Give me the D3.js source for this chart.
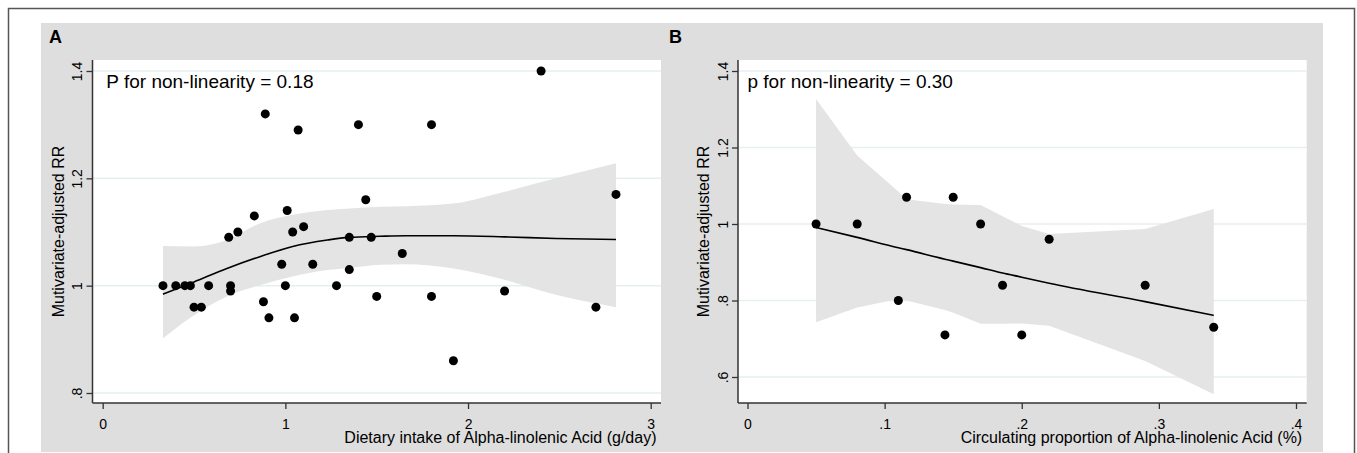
<!DOCTYPE html>
<html>
<head>
<meta charset="utf-8">
<script src="https://cdn.jsdelivr.net/npm/d3@7"></script>
<style>
  body { margin: 0; background: #fff; }
  text { font-family: "Liberation Sans", Arial, sans-serif; fill: #000; }
</style>
</head>
<body>
<svg id="chart"></svg>
<script>
// panel A: dietary intake
var xA = [0.33, 0.40, 0.45, 0.48, 0.50, 0.54, 0.58, 0.69, 0.70, 0.70, 0.74, 0.83, 0.88, 0.89, 0.91, 0.98, 1.00, 1.01, 1.04,
  1.05, 1.07, 1.10, 1.15, 1.28, 1.35, 1.35, 1.40, 1.44, 1.47, 1.50, 1.64, 1.80, 1.80, 1.92, 2.20, 2.40, 2.70, 2.81];
var yA = [1.00, 1.00, 1.00, 1.00, 0.96, 0.96, 1.00, 1.09, 1.00, 0.99, 1.10, 1.13, 0.97, 1.32, 0.94, 1.04, 1.00, 1.14, 1.10,
  0.94, 1.29, 1.11, 1.04, 1.00, 1.09, 1.03, 1.30, 1.16, 1.09, 0.98, 1.06, 1.30, 0.98, 0.86, 0.99, 1.40, 0.96, 1.17];
var fitXA = [0.33, 0.50, 0.68, 0.86, 1.04, 1.23, 1.35, 1.52, 1.66, 1.92, 2.20, 2.48, 2.81];
var fitA = [0.984, 1.007, 1.032, 1.054, 1.073, 1.085, 1.090, 1.092, 1.093, 1.093, 1.091, 1.088, 1.086];
var loA = [0.902, 0.945, 0.980, 1.001, 1.017, 1.029, 1.033, 1.039, 1.040, 1.032, 1.011, 0.983, 0.960];
var hiA = [1.074, 1.073, 1.085, 1.116, 1.132, 1.141, 1.144, 1.147, 1.148, 1.153, 1.175, 1.200, 1.228];
var xTicksA = [0, 1, 2, 3];
var yTicksA = [0.8, 1, 1.2, 1.4];

// panel B: circulating proportion
var xB = [0.05, 0.08, 0.11, 0.116, 0.144, 0.15, 0.17, 0.186, 0.20, 0.22, 0.29, 0.34];
var yB = [1.00, 1.00, 0.80, 1.07, 0.71, 1.07, 1.00, 0.84, 0.71, 0.96, 0.84, 0.73];
var fitXB = [0.05, 0.08, 0.11, 0.116, 0.144, 0.15, 0.17, 0.186, 0.20, 0.22, 0.29, 0.34];
var fitB = [0.991, 0.965, 0.938, 0.933, 0.908, 0.903, 0.886, 0.872, 0.861, 0.845, 0.797, 0.761];
var loB = [0.743, 0.782, 0.804, 0.800, 0.775, 0.768, 0.739, 0.739, 0.740, 0.734, 0.642, 0.555];
var hiB = [1.327, 1.179, 1.085, 1.065, 1.052, 1.051, 1.050, 1.020, 0.995, 0.974, 0.987, 1.039];
var xTicksB = [0, 0.1, 0.2, 0.3, 0.4];
var yTicksB = [0.6, 0.8, 1, 1.2, 1.4];

function stataFmt(v) {
  // Stata style: drop the leading zero
  var s = d3.format("~g")(+v.toFixed(2));
  return s.replace(/^0\./, ".");
}

function main() {
  var svgWidth = 1357;
  var svgHeight = 453;
  var svg = d3.select("#chart").attr("width", svgWidth).attr("height", svgHeight);

  svg.append("rect")
    .attr("x", 8.5).attr("y", 8.5)
    .attr("width", 1346).attr("height", 470)
    .attr("fill", "#fff")
    .attr("stroke", "#555")
    .attr("stroke-width", 1.5);

  svg.append("rect")
    .attr("x", 41).attr("y", 23)
    .attr("width", 1282).attr("height", 429)
    .attr("fill", "#dedede");

  function drawPanel(p) {
    var g = svg.append("g");
    var x = d3.scaleLinear().domain(p.xDomain).range(p.xRange);
    var y = d3.scaleLinear().domain(p.yDomain).range(p.yRange);

    g.append("rect")
      .attr("x", p.left).attr("y", p.top)
      .attr("width", p.right - p.left).attr("height", p.bottom - p.top)
      .attr("fill", "#fff");

    g.append("g").selectAll("line")
      .data(p.yTicks)
      .enter()
      .append("line")
      .attr("x1", p.left).attr("x2", p.right)
      .attr("y1", (d) => y(d)).attr("y2", (d) => y(d))
      .attr("stroke", "#e6eff1")
      .attr("stroke-width", 1.5);

    var band = d3.area()
      .x((d, i) => x(p.fitX[i]))
      .y0((d, i) => y(p.lo[i]))
      .y1((d, i) => y(p.hi[i]))
      .curve(p.bandCurve);
    g.append("path")
      .attr("d", band(p.fitX))
      .attr("fill", "#e4e4e4");

    var fitLine = d3.line()
      .x((d, i) => x(p.fitX[i]))
      .y((d, i) => y(p.fit[i]))
      .curve(d3.curveMonotoneX);
    g.append("path")
      .attr("d", fitLine(p.fitX))
      .attr("fill", "none")
      .attr("stroke", "#000")
      .attr("stroke-width", 1.6);

    g.append("g").selectAll("circle")
      .data(p.xs)
      .enter()
      .append("circle")
      .attr("cx", (d) => x(d))
      .attr("cy", (d, i) => y(p.ys[i]))
      .attr("r", 4.5)
      .attr("fill", "#000");

    // axes
    var xAxis = d3.axisBottom(x).tickValues(p.xTicks).tickSize(6).tickSizeOuter(0).tickFormat(stataFmt);
    var xAxisNode = g.append("g")
      .attr("transform", `translate(0,${p.bottom})`)
      .call(xAxis);
    xAxisNode.select(".domain").remove();
    xAxisNode.selectAll("line").attr("stroke", "#333").attr("stroke-width", 1.3);
    xAxisNode.selectAll("text")
      .attr("y", 25.5).attr("dy", 0)
      .style("font-family", "Liberation Sans, Arial, sans-serif")
      .style("font-size", "14px")
      .attr("fill", "#000");

    var yAxis = d3.axisLeft(y).tickValues(p.yTicks).tickSize(6).tickSizeOuter(0).tickFormat(stataFmt);
    var yAxisNode = g.append("g")
      .attr("transform", `translate(${p.left},0)`)
      .call(yAxis);
    yAxisNode.select(".domain").remove();
    yAxisNode.selectAll("line").attr("stroke", "#333").attr("stroke-width", 1.3);
    yAxisNode.selectAll("text")
      .attr("x", 0).attr("y", -10.5).attr("dy", 0)
      .attr("transform", "rotate(-90)")
      .attr("text-anchor", "middle")
      .style("font-family", "Liberation Sans, Arial, sans-serif")
      .style("font-size", "14px")
      .attr("fill", "#000");

    g.append("line")
      .attr("x1", p.left).attr("x2", p.right)
      .attr("y1", p.bottom).attr("y2", p.bottom)
      .attr("stroke", "#333").attr("stroke-width", 1.5);
    g.append("line")
      .attr("x1", p.left).attr("x2", p.left)
      .attr("y1", p.top).attr("y2", p.bottom)
      .attr("stroke", "#333").attr("stroke-width", 1.5);

    g.append("text")
      .attr("x", p.right - 4.5)
      .attr("y", 443)
      .attr("text-anchor", "end")
      .style("font-size", "16px")
      .text(p.xTitle);

    g.append("text")
      .attr("transform", `translate(${p.left - 29},${(p.top + p.bottom) / 2}) rotate(-90)`)
      .attr("text-anchor", "middle")
      .style("font-size", "16px")
      .text(p.yTitle);

    g.append("text")
      .attr("x", x(p.noteX))
      .attr("y", 88.3)
      .style("font-size", "19px")
      .text(p.note);

    g.append("text")
      .attr("x", p.letterX)
      .attr("y", 43)
      .style("font-size", "18px")
      .style("font-weight", "bold")
      .text(p.letter);
  }

  drawPanel({
    letter: "A", letterX: 49,
    left: 92.5, right: 661, top: 60, bottom: 403,
    xDomain: [0, 3], xRange: [102.7, 650.7],
    yDomain: [0.8, 1.4], yRange: [393, 71],
    xs: xA, ys: yA, fitX: fitXA, fit: fitA, lo: loA, hi: hiA,
    bandCurve: d3.curveMonotoneX,
    xTicks: xTicksA, yTicks: yTicksA,
    xTitle: "Dietary intake of Alpha-linolenic Acid (g/day)",
    yTitle: "Mutivariate-adjusted RR",
    note: "P for non-linearity = 0.18", noteX: 0.02
  });

  drawPanel({
    letter: "B", letterX: 669,
    left: 738, right: 1306.7, top: 60, bottom: 403,
    xDomain: [0, 0.4], xRange: [747.5, 1296],
    yDomain: [0.6, 1.4], yRange: [377, 71],
    xs: xB, ys: yB, fitX: fitXB, fit: fitB, lo: loB, hi: hiB,
    bandCurve: d3.curveLinear,
    xTicks: xTicksB, yTicks: yTicksB,
    xTitle: "Circulating proportion of Alpha-linolenic Acid (%)",
    yTitle: "Mutivariate-adjusted RR",
    note: "p for non-linearity = 0.30", noteX: 0
  });
}
main();
</script>
</body>
</html>
